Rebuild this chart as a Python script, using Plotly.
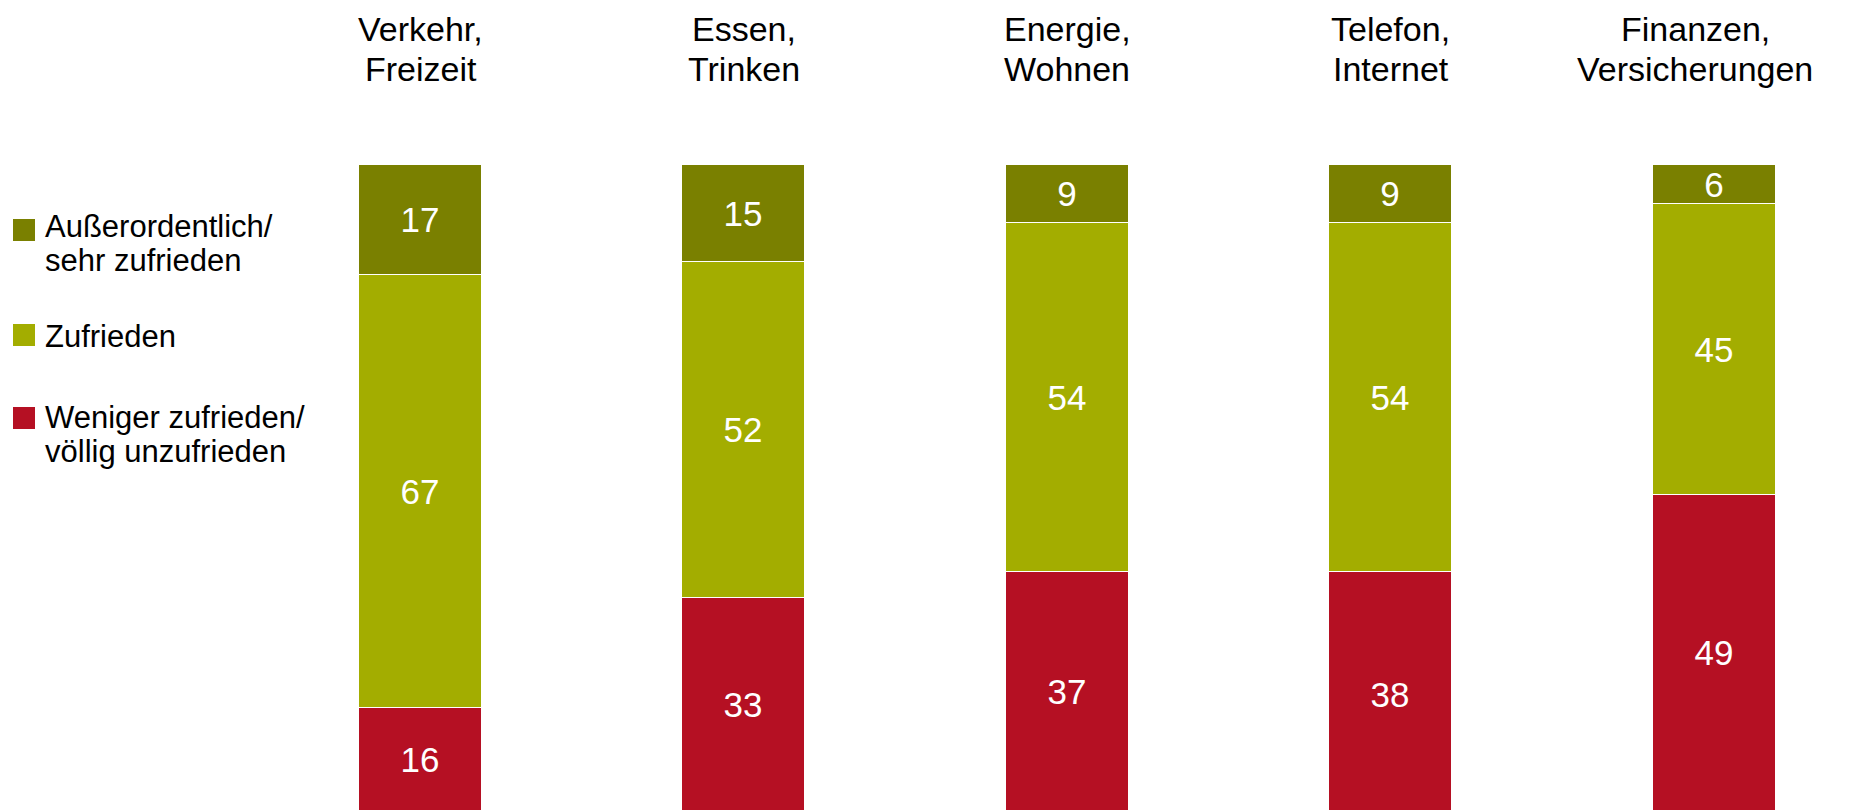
import plotly.graph_objects as go

# Satisfaction by sector (percent), stacked top-down
categories = ["Verkehr,<br>Freizeit", "Essen,<br>Trinken", "Energie,<br>Wohnen",
              "Telefon,<br>Internet", "Finanzen,<br>Versicherungen"]
series_names = ["Außerordentlich/<br>sehr zufrieden", "Zufrieden",
                "Weniger zufrieden/<br>völlig unzufrieden"]
very_satisfied = [17, 15, 9, 9, 6]
satisfied = [67, 52, 54, 54, 45]
dissatisfied = [16, 33, 37, 38, 49]

colors = ["#7A8000", "#A3AD00", "#B51023"]
font_family = "Liberation Sans, Arial, sans-serif"

W, H = 1850, 810
TOP = 165  # top edge of the plotting area in px


def paper_y(py):
    return (H - py) / (H - TOP)


x_pos = list(range(len(categories)))
fig = go.Figure()
for name, vals, col in zip(series_names, [very_satisfied, satisfied, dissatisfied], colors):
    fig.add_trace(go.Bar(
        x=x_pos, y=vals, name=name,
        marker=dict(color=col, line=dict(color="white", width=1)),
        width=0.38,
        text=vals, texttemplate="%{text}",
        textposition="inside", insidetextanchor="middle",
        textangle=0, constraintext="none",
        textfont=dict(color="white", size=35, family=font_family),
        showlegend=False, hoverinfo="skip",
    ))

annotations = []
# Category headings above each column (the last one is kept inside the right edge)
head_fs = 34
for i, cat in enumerate(categories):
    shift = -19 if i == len(categories) - 1 else 0
    for j, line in enumerate(cat.split("<br>")):
        baseline = 40.5 + j * 40
        annotations.append(dict(
            x=i, xref="x", y=paper_y(baseline - 0.35 * head_fs), yref="paper",
            xshift=shift,
            text=line, showarrow=False, xanchor="center", yanchor="middle",
            font=dict(size=head_fs, color="#000000", family=font_family),
        ))

# Legend: colour squares with labels
legend_rows = [(219, 237), (324, 347), (407, 428)]
shapes = []
for (sq_top, base), name, col in zip(legend_rows, series_names, colors):
    shapes.append(dict(
        type="rect", xref="paper", yref="paper",
        x0=13 / W, x1=35 / W, y0=paper_y(sq_top), y1=paper_y(sq_top + 22),
        fillcolor=col, line=dict(width=0),
    ))
    for j, line in enumerate(name.split("<br>")):
        b = base + j * 34
        annotations.append(dict(
            x=43 / W, xref="paper", y=paper_y(b - 0.35 * 31), yref="paper",
            text=line, showarrow=False, xanchor="left", yanchor="middle",
            font=dict(size=31, color="#000000", family=font_family),
        ))

px_per_cat = 323.4
first_center = 420.5
fig.update_layout(
    width=W, height=H,
    barmode="stack", bargap=0,
    margin=dict(l=0, r=0, t=TOP, b=0, pad=0),
    plot_bgcolor="white", paper_bgcolor="white",
    xaxis=dict(range=[-first_center / px_per_cat, (W - first_center) / px_per_cat],
               showgrid=False, zeroline=False, showticklabels=False, showline=False,
               fixedrange=True),
    yaxis=dict(range=[99.8, 0], showgrid=False, zeroline=False,
               showticklabels=False, showline=False, fixedrange=True),
    annotations=annotations, shapes=shapes,
    font=dict(family=font_family),
)

fig.write_html("out.html")
